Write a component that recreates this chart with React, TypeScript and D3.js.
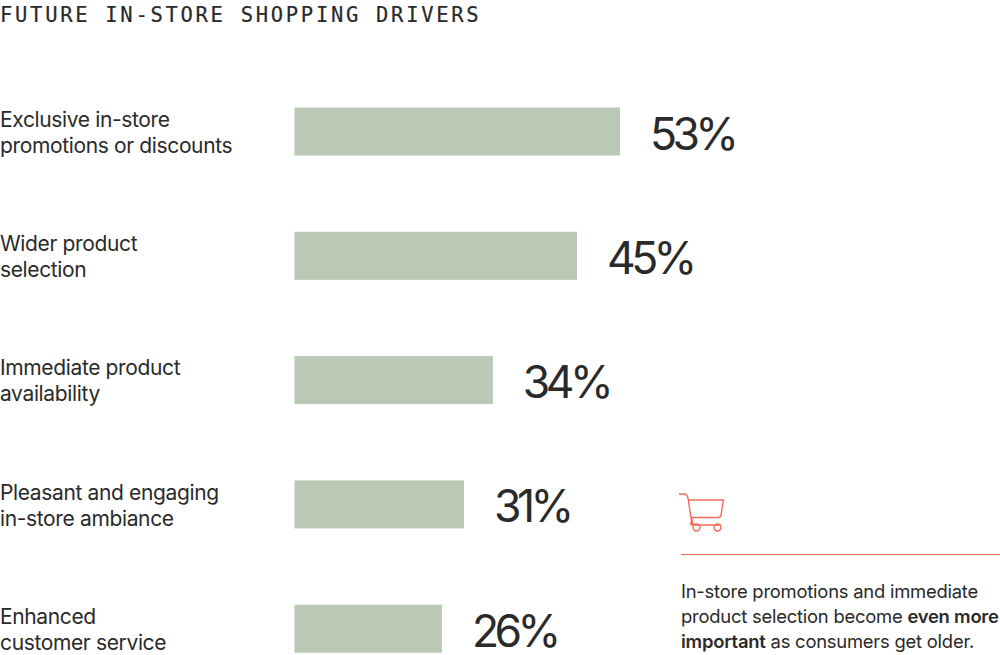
import React from "react";
import * as d3 from "d3";

const titleText = "FUTURE IN-STORE SHOPPING DRIVERS";
const categories = [
  ["Exclusive in-store", "promotions or discounts"],
  ["Wider product", "selection"],
  ["Immediate product", "availability"],
  ["Pleasant and engaging", "in-store ambiance"],
  ["Enhanced", "customer service"],
];
const percentLabels = [53, 45, 34, 31, 26];
const drawnBarValues = [53, 46, 32.3, 27.6, 24];
const noteLines = [
  [{ t: "In-store promotions and immediate", b: false }],
  [{ t: "product selection become ", b: false }, { t: "even more", b: true }],
  [{ t: "important", b: true }, { t: " as consumers get older.", b: false }],
];

const SANS = "Inter, Roboto, sans-serif";

export default function App() {
  const x = d3.scaleLinear().domain([0, 53]).range([294.5, 620]);
  const bw = 48;
  const step = 124.3;
  const top = (i: number) => 107.5 + i * step;
  return (
    <svg width={1000} height={655} style={{ position: "absolute", left: 0, top: 0 }}>
      <text x={0} y={22} fontFamily="'DejaVu Sans Mono', monospace" fontSize={20.5} letterSpacing={2.7} stroke="#2a2a2a" strokeWidth={0.2} fill="#2a2a2a">{titleText}</text>
      {categories.map((c, i) => (
        <g key={i}>
          {c.map((l, j) => (
            <text key={j} x={0} y={top(i) + 19.3 + j * 26} fontFamily={SANS} fontSize={21} letterSpacing={-0.36} fill="#2a2a2a">{l}</text>
          ))}
          <rect x={x(0)} y={top(i)} width={x(drawnBarValues[i]) - x(0)} height={bw} fill="#bac8b6" />
          <text x={x(drawnBarValues[i]) + 30} y={top(i) + 42} fontFamily={SANS} fontSize={44.5} letterSpacing={-4.6} fill="#2a2a2a">{percentLabels[i]}%</text>
        </g>
      ))}
      <g fill="none" stroke="#f4695c" strokeWidth={1.4}>
        <path d="M679 494 H684 Q687 494 688 498 L691.5 521 Q692 525 696 525 H693 Q690 525 691 522 M688 500 H723.5 L721 515 Q720.5 517.5 718 517.5 H690.5 M691.5 517.5 L692.5 523 Q693 525 696 525 H721" />
        <circle cx={696.5} cy={527.5} r={3.5} />
        <circle cx={717.5} cy={527.5} r={3.5} />
      </g>
      <line x1={681} x2={1000} y1={554.5} y2={554.5} stroke="#f4695c" strokeWidth={1.2} />
      {noteLines.map((l, i) => (
        <text key={i} x={681} y={597.5 + i * 25} fontFamily={SANS} fontSize={18.4} letterSpacing={-0.22} fill="#2a2a2a">
          {l.map((s, k) => (
            <tspan key={k} fontWeight={s.b ? 600 : 400}>{s.t}</tspan>
          ))}
        </text>
      ))}
    </svg>
  );
}
